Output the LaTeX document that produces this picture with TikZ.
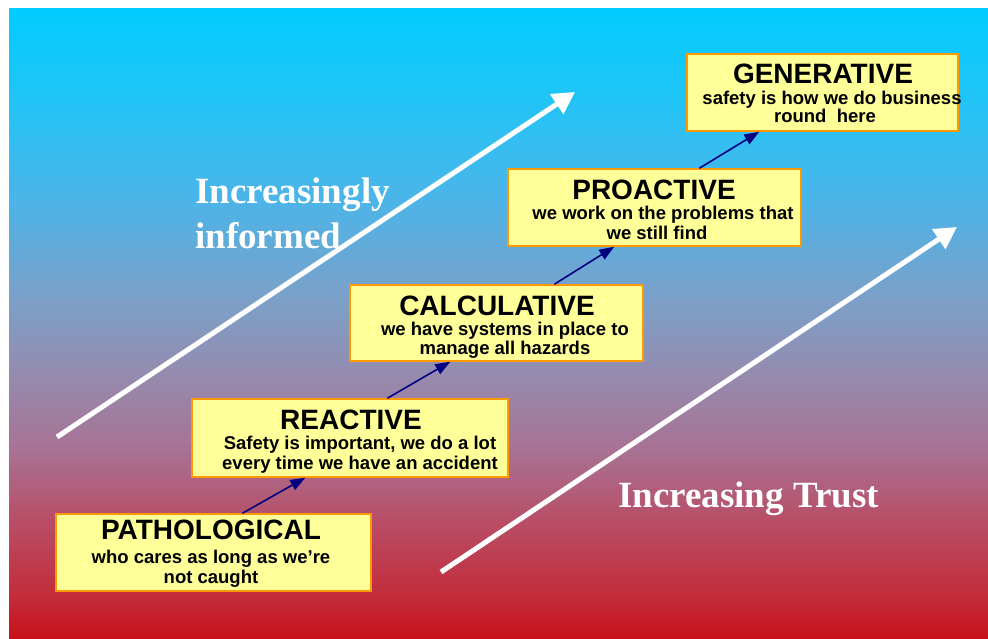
\documentclass[tikz,border=0pt]{standalone}
\usepackage{fontspec}
\setmainfont{Liberation Sans}
\newfontfamily\trustfont{Liberation Serif}
\usetikzlibrary{arrows.meta,calc}

% sky-to-red background, stops placed in the middle 50bp band
\pgfdeclareverticalshading{skyfade}{100bp}{%
  rgb(0bp)=(0.784,0.063,0.094);
  rgb(25bp)=(0.784,0.063,0.094);
  rgb(28.1bp)=(0.769,0.165,0.220);
  rgb(34.4bp)=(0.722,0.306,0.400);
  rgb(40bp)=(0.659,0.447,0.580);
  rgb(46.3bp)=(0.580,0.549,0.690);
  rgb(51.9bp)=(0.486,0.627,0.784);
  rgb(59.8bp)=(0.298,0.706,0.910);
  rgb(67.8bp)=(0.133,0.769,0.965);
  rgb(75bp)=(0,0.8,1);
  rgb(100bp)=(0,0.8,1)}

\definecolor{boxfill}{HTML}{FFFF99}
\definecolor{boxedge}{HTML}{FF9900}
\definecolor{stepnavy}{HTML}{000080}

\tikzset{
  stage/.style={draw=boxedge, line width=1.4pt, fill=boxfill, inner sep=0pt},
  stagetitle/.style={anchor=base, inner sep=0pt, font=\fontsize{28}{30}\selectfont\bfseries},
  stagebody/.style={anchor=base, inner sep=0pt, font=\fontsize{18.5}{20}\selectfont\bfseries},
  climb/.style={draw=stepnavy, line width=1.6pt, -{Triangle[length=15pt,width=11pt]}},
  bigarrow/.style={draw=white, line width=5pt, -{Triangle[length=22pt,width=23pt]}},
  axislabel/.style={text=white, inner sep=0pt, font=\trustfont\fontsize{37}{44}\selectfont\bfseries}
}

\begin{document}
\begin{tikzpicture}[x=1pt, y=-1pt]
  \useasboundingbox (0,0) rectangle (988,639);
  \fill[white] (0,0) rectangle (988,639);
  \shade[shading=skyfade] (9,9) rectangle (988,639);

  % the two long white trend arrows
  \coordinate (infoS) at (57,437);
  \coordinate (infoE) at (575,92);
  \coordinate (trustS) at (441,572);
  \coordinate (trustE) at (957,227);
  \draw[bigarrow] (infoS) -- (infoE);
  \draw[bigarrow] (trustS) -- (trustE);

  \node[axislabel, anchor=base west] (inc1) at (195,204) {Increasingly};
  \node[axislabel, anchor=base west] (inc2) at (195,248) {informed};
  \node[axislabel, anchor=base west] (trust) at (618,507) {Increasing Trust};

  % stage boxes
  \node[stage, minimum width=315pt, minimum height=77pt] (patho) at (213.5,552.5) {};
  \node[stage, minimum width=316pt, minimum height=78pt] (react) at (350,438) {};
  \node[stage, minimum width=293pt, minimum height=76pt] (calc) at (496.5,323) {};
  \node[stage, minimum width=293pt, minimum height=77pt] (proact) at (654.5,207.5) {};
  \node[stage, minimum width=271pt, minimum height=77pt] (gener) at (822.5,92.5) {};

  % stage texts
  \node[stagetitle] (pathoT) at (211,539) {PATHOLOGICAL};
  \node[stagebody] (pathoA) at (211,563) {who cares as long as we’re};
  \node[stagebody] (pathoB) at (211,583) {not caught};

  \node[stagetitle] (reactT) at (351,429) {REACTIVE};
  \node[stagebody] (reactA) at (360,449) {Safety is important, we do a lot};
  \node[stagebody] (reactB) at (360,469) {every time we have an accident};

  \node[stagetitle] (calcT) at (497,315) {CALCULATIVE};
  \node[stagebody] (calcA) at (505,335) {we have systems in place to};
  \node[stagebody] (calcB) at (505,354) {manage all hazards};

  \node[stagetitle] (proactT) at (654,200) {PROACTIVE};
  \node[stagebody] (proactA) at (663,220) {we work on the problems that};
  \node[stagebody] (proactB) at (657,240) {we still find};

  \node[stagetitle] (generT) at (823,84) {GENERATIVE};
  \node[stagebody] (generA) at (832,105) {safety is how we do business};
  \node[stagebody] (generB) at (825,123) {round\ \ here};

  % step-up connectors between stages
  \draw[climb] ($(patho.north west)+(187,0)$) -- ($(react.south west)+(114,0)$);
  \draw[climb] ($(react.north west)+(196,0)$) -- ($(calc.south west)+(101,0)$);
  \draw[climb] ($(calc.north west)+(205,0)$) -- ($(proact.south west)+(107,0)$);
  \draw[climb] ($(proact.north west)+(192,0)$) -- ($(gener.south west)+(73,0)$);
\end{tikzpicture}
\end{document}
